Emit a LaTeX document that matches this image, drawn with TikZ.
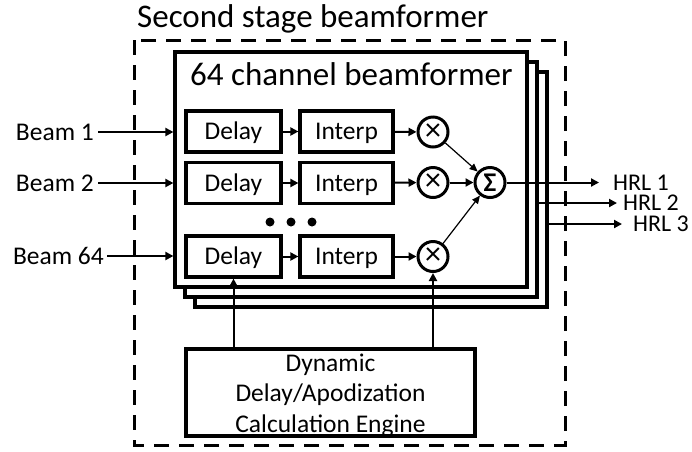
\documentclass[tikz,border=0pt]{standalone}
\usepackage{fontspec}
\setmainfont{Carlito}
\usetikzlibrary{arrows.meta}
\begin{document}
\begin{tikzpicture}[x=1pt,y=-1pt,
  lbl/.style={inner ysep=2pt,text height=16pt,text depth=0pt,font=\fontsize{25.5}{30}\selectfont},
  outlbl/.style={inner ysep=0pt,text height=15pt,text depth=0pt,font=\fontsize{24}{28}\selectfont},
  stackbox/.style={draw,line width=3.2pt,fill=white,minimum width=352pt,minimum height=235pt,inner sep=0pt},
  blk/.style={draw,line width=3.2pt,fill=white,minimum height=41pt,inner sep=0pt,text height=16pt,text depth=0pt,font=\fontsize{25.5}{30}\selectfont},
  mult/.style={draw,circle,line width=3pt,fill=white,minimum size=30pt,inner sep=0pt,font=\fontsize{32}{34}\selectfont},
  arr/.style={line width=2pt,-{Triangle[length=8pt,width=8pt]}},
  thinarr/.style={line width=1.2pt,-{Triangle[length=8pt,width=7pt]}},
  dot/.style={circle,fill=black,minimum size=9pt,inner sep=0pt}]
\useasboundingbox (0,0) rectangle (692,451);
% outer dashed frame
\draw[line width=3pt,dash pattern=on 15pt off 10pt] (134,40) rectangle (565,445);
\node[anchor=base west,inner sep=0pt,font=\fontsize{33}{38}\selectfont] (title) at (137,27) {Second stage beamformer};
% stacked beamformer boxes
\node[stackbox] (s3) at (371,189.5) {};
\node[stackbox] (s2) at (361,179.5) {};
\node[stackbox] (s1) at (351,169.5) {};
\node[anchor=base west,inner sep=0pt,font=\fontsize{33}{38}\selectfont] (bftitle) at (190,85) {64 channel beamformer};
% rows
\node[blk,minimum width=95pt] (d1) at (233.5,131.5) {Delay};
\node[blk,minimum width=93pt] (i1) at (346.5,131.5) {Interp};
\node[mult] (m1) at (433,132) {×};
\node[blk,minimum width=95pt] (d2) at (233.5,183) {Delay};
\node[blk,minimum width=93pt] (i2) at (346.5,183) {Interp};
\node[mult] (m2) at (433,182.5) {×};
\node[blk,minimum width=95pt] (d3) at (233.5,256.5) {Delay};
\node[blk,minimum width=93pt] (i3) at (346.5,256.5) {Interp};
\node[mult] (m3) at (433,256.5) {×};
\node[mult,font=\fontsize{27}{30}\selectfont] (sig) at (490,182.5) {\bfseries Σ};
\node[dot] (dt1) at (270,222) {};
\node[dot] (dt2) at (291,222) {};
\node[dot] (dt3) at (312,222) {};
\foreach \r in {1,2,3}{
  \draw[arr] (d\r) -- (i\r);
  \draw[arr] (i\r) -- (m\r);
}
\draw[thinarr] (m1) -- (sig);
\draw[arr] (m2) -- (sig);
\draw[thinarr] (m3) -- (sig);
% inputs
\node[lbl,anchor=east,inner xsep=4pt] (b1) at (98,132) {Beam 1};
\node[lbl,anchor=east,inner xsep=4pt] (b2) at (98,183) {Beam 2};
\node[lbl,anchor=east,inner xsep=3pt] (b3) at (107,256) {Beam 64};
\draw[arr] (b1.east) -- (b1.east -| s1.west);
\draw[arr] (b2.east) -- (b2.east -| s1.west);
\draw[arr] (b3.east) -- (b3.east -| s1.west);
% outputs
\node[outlbl,anchor=west,inner xsep=14pt] (h1) at (599,182.5) {HRL 1};
\node[outlbl,anchor=west,inner xsep=6pt] (h2) at (617,203) {HRL 2};
\node[outlbl,anchor=west,inner xsep=11pt] (h3) at (622,224) {HRL 3};
\draw[arr] (sig.east) -- (h1.west);
\draw[arr] (h2.west -| s2.east) -- (h2.west);
\draw[arr] (h3.west -| s3.east) -- (h3.west);
% engine
\node[draw,line width=3.2pt,fill=white,minimum width=289pt,minimum height=87pt,inner sep=0pt] (eng) at (330.5,392.5) {};
\node[align=center,inner sep=0pt,font=\fontsize{25.5}{30.5}\selectfont] (engtxt) at (330.5,395) {Dynamic\\Delay/Apodization\\Calculation Engine};
\draw[arr] (eng.north -| d3.south) -- (d3.south);
\draw[arr] (eng.north -| m3.south) -- (m3.south);
\end{tikzpicture}
\end{document}
